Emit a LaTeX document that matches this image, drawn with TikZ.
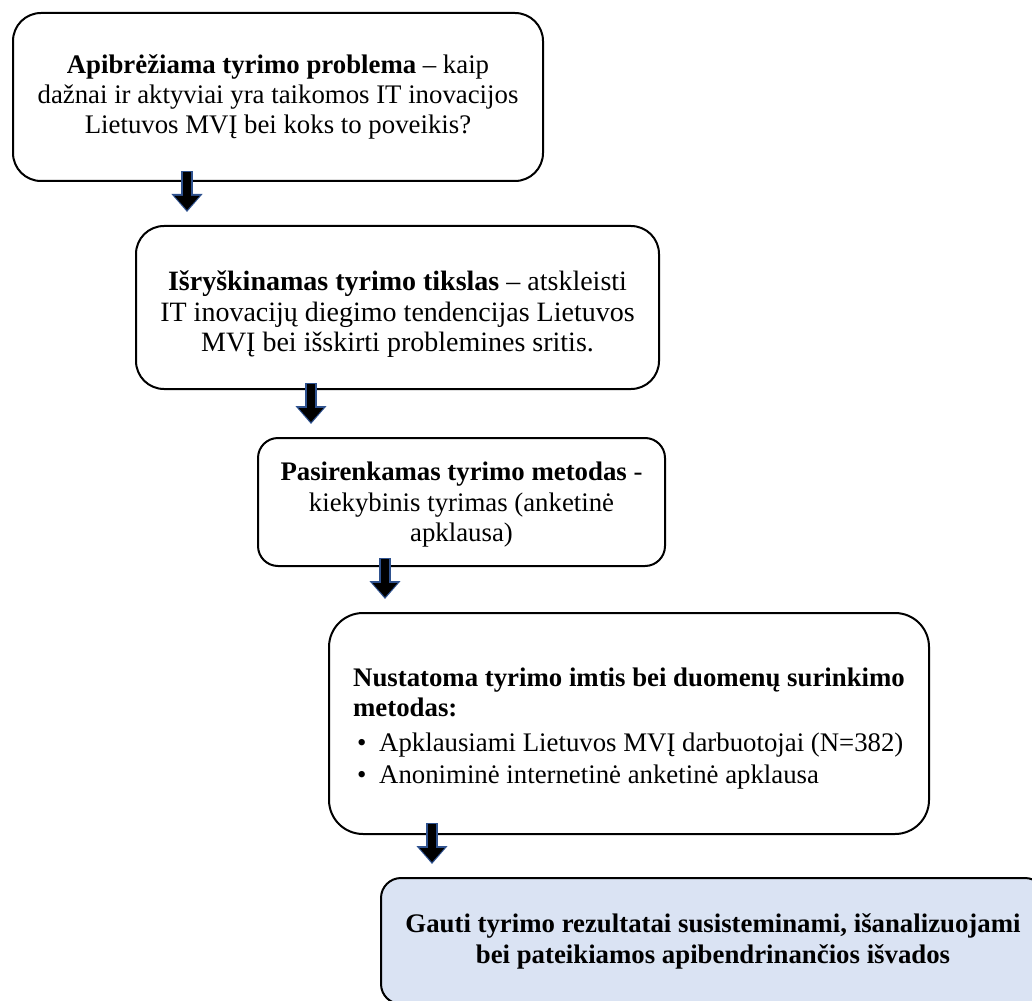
\documentclass[tikz,border=0pt]{standalone}
\usepackage{fontspec}
\setmainfont{Liberation Serif}
\usepackage{tikz}
\usetikzlibrary{arrows.meta, calc, positioning}
\definecolor{stepblue}{HTML}{DAE3F3}
\definecolor{rimblue}{HTML}{2F528F}
\newcommand{\toppad}[1]{\rule{0pt}{\dimexpr0.69em+#1\relax}}

\begin{document}
\begin{tikzpicture}[
                x=0.5pt, y=-0.5pt,
                stagebox/.style={draw=black, line width=1pt, rectangle, anchor=north west, font=\fontsize{13.4pt}{15.2pt}\selectfont},
                arrowrim/.style={draw=rimblue, line width=6pt, -{Triangle[length=9pt, width=15pt]}},
                arrowcore/.style={draw=black, line width=4.2pt, -{Triangle[length=7pt, width=12pt]}}
            ]

            \clip (0,0) rectangle (1032,1000);

            % Etapai
            \node[stagebox, rounded corners=14pt, minimum width=265pt, minimum height=84pt, align=center] (A) at (12,12)
                {\textbf{Apibrėžiama tyrimo problema} – kaip\\dažnai ir aktyviai yra taikomos IT inovacijos\\Lietuvos MVĮ bei koks to poveikis?};
            \node[stagebox, rounded corners=14pt, minimum width=261.5pt, minimum height=81.5pt, align=center, font=\fontsize{14pt}{15.2pt}\selectfont] (B) at (135,225)
                {\toppad{7pt}\textbf{Išryškinamas tyrimo tikslas} – atskleisti\\IT inovacijų diegimo tendencijas Lietuvos\\MVĮ bei išskirti problemines sritis.};
            \node[stagebox, rounded corners=10pt, minimum width=203.5pt, minimum height=64pt, align=center] (C) at (257,437)
                {\toppad{3pt}\textbf{Pasirenkamas tyrimo metodas} -\\kiekybinis tyrimas (anketinė\\apklausa)};
            \node[stagebox, rounded corners=17pt, minimum width=300pt, minimum height=110.5pt, align=left] (D) at (328,612)
                {\toppad{5pt}\textbf{Nustatoma tyrimo imtis bei duomenų surinkimo}\\\textbf{metodas:}\\[2pt]
                 \hspace*{2pt}\makebox[11pt][l]{•}Apklausiami Lietuvos MVĮ darbuotojai (N=382)\\[1pt]
                 \hspace*{2pt}\makebox[11pt][l]{•}Anoniminė internetinė anketinė apklausa};
            \node[stagebox, fill=stepblue, rounded corners=10pt, minimum width=332pt, minimum height=63pt, align=center, font=\fontsize{13.4pt}{15.5pt}\selectfont] (E) at (380,877)
                {\textbf{Gauti tyrimo rezultatai susisteminami, išanalizuojami}\\\textbf{bei pateikiamos apibendrinančios išvados}};

            % Rodyklės tarp etapų
            \foreach \from/\to/\dx in {A/B/52, B/C/54, C/D/57, D/E/52} {
                \draw[arrowrim] ($(\to.north west)+(\dx,-54)$) -- ($(\to.north west)+(\dx,-13)$);
                \draw[arrowcore] ($(\to.north west)+(\dx,-53)$) -- ($(\to.north west)+(\dx,-15)$);
            }

        \end{tikzpicture}
\end{document}
